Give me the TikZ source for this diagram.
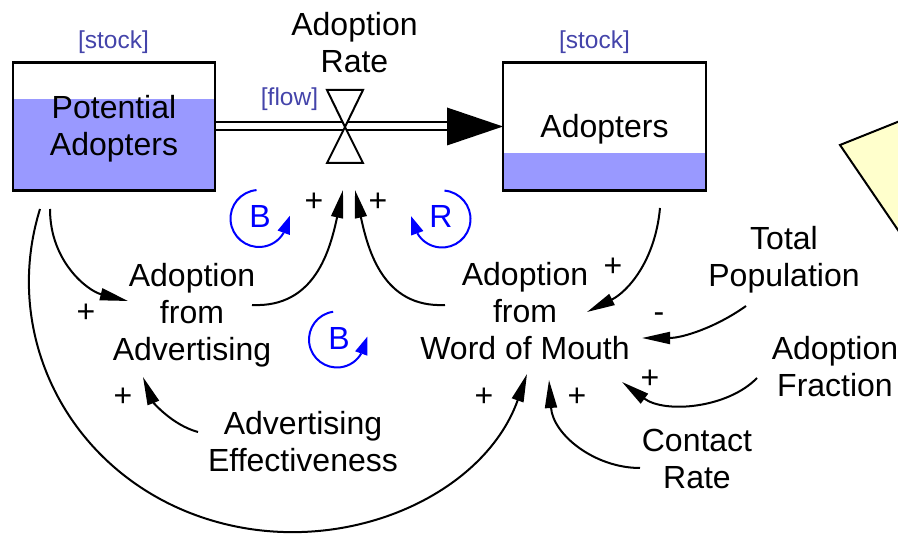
\documentclass[tikz,border=0pt]{standalone}
\usepackage{fontspec}
\setmainfont{Liberation Sans}
\usetikzlibrary{arrows.meta}
\definecolor{stockfill}{RGB}{153,153,255}
\definecolor{tagcol}{RGB}{68,68,170}
\definecolor{loopblue}{RGB}{0,0,255}
\definecolor{notefill}{RGB}{255,255,204}
\begin{document}
\begin{tikzpicture}[x=1pt,y=-1pt,
  every node/.style={font=\fontsize{32}{37}\selectfont, inner sep=0pt, outer sep=0pt},
  var/.style={align=center},
  tag/.style={font=\fontsize{24.5}{28}\selectfont, text=tagcol},
  stockbox/.style={draw, line width=2.5pt, minimum height=128pt, fill=white},
  link/.style={line width=2pt, -{Triangle[length=28pt,width=12pt]}},
  loopline/.style={draw=loopblue, line width=2pt},
  loophead/.style={fill=loopblue},
  looplab/.style={text=loopblue},
  pipe/.style={line width=2pt, double=white, double distance=6pt},
  valvestyle/.style={draw, line width=2pt, fill=white, line join=miter},
]
\useasboundingbox (0,0) rectangle (898,534);

% yellow note (partly outside the picture)
\begin{scope}
  \clip (0,0) rectangle (898,534);
  \coordinate (n1) at (840,145);
  \coordinate (n2) at (960,97);
  \coordinate (n3) at (960,321);
  \draw[fill=notefill, line width=2pt, line join=miter] (n1) -- (n2) -- (n3) -- cycle;
\end{scope}

% stocks
\node[stockbox, minimum width=202pt,
  path picture={\fill[stockfill] (path picture bounding box.south west) rectangle ([yshift=91pt]path picture bounding box.south east);}]
  (pa) at (114,126.5) {};
\node[var] (patext) at (114,128.4) {Potential\\Adopters};
\node[stockbox, minimum width=203pt,
  path picture={\fill[stockfill] (path picture bounding box.south west) rectangle ([yshift=37pt]path picture bounding box.south east);}]
  (ad) at (604.5,126.5) {};
\node (adtext) at (604.5,128.8) {Adopters};

\node[tag] (tag1) at (113.5,42) {[stock]};
\node[tag] (tag2) at (594.5,42) {[stock]};
\node[tag] (tag3) at (289.5,99) {[flow]};

% flow pipe
\draw[pipe] (pa.east) -- ([xshift=-54pt]ad.west);
\draw[line width=2.5pt] (pa.north east) -- (pa.south east);
\fill ([shift={(-56pt,19pt)}]ad.west) -- (ad.west) -- ([shift={(-56pt,-19pt)}]ad.west) -- cycle;

% valve
\coordinate (valve) at (345,127);
\draw[valvestyle] (valve) -- ++(-18,-37) -- ++(36,0) -- cycle;
\draw[valvestyle] (valve) -- ++(-18,36) -- ++(36,0) -- cycle;
\node[var] (rate) at (354.5,43) {Adoption\\Rate};

% variables
\node[var] (aadv) at (192,315) {Adoption\\from\\Advertising};
\node[var] (awom) at (525,311.5) {Adoption\\from\\Word of Mouth};
\node[var] (tp) at (784,259.5) {Total\\Population};
\node[var] (af) at (835,367) {Adoption\\Fraction};
\node[var] (cr) at (697,459) {Contact\\Rate};
\node[var] (ae) at (303,442) {Advertising\\Effectiveness};

% link end points
\coordinate (l1a) at (50,209);   \coordinate (l1b) at (128,301);
\coordinate (l2a) at (252,305);  \coordinate (l2b) at (343,190);
\coordinate (l3a) at (445,305);  \coordinate (l3b) at (355,190);
\coordinate (l4a) at (660,208);  \coordinate (l4b) at (587,312);
\coordinate (l5a) at (746,306);  \coordinate (l5b) at (642,338);
\coordinate (l6a) at (757,378);  \coordinate (l6b) at (622,382);
\coordinate (l7a) at (640,468);  \coordinate (l7b) at (549,380);
\coordinate (l8a) at (40,209);   \coordinate (l8m) at (204,518);  \coordinate (l8b) at (527,374);
\coordinate (l9a) at (198,432);  \coordinate (l9b) at (143,377);

\draw[link] (l1a) .. controls (50,262) and (88,291) .. (l1b);
\draw[link] (l2a) .. controls (315,308) and (330,250) .. (l2b);
\draw[link] (l3a) .. controls (383,308) and (368,250) .. (l3b);
\draw[link] (l4a) .. controls (655,262) and (627,292) .. (l4b);
\draw[link] (l5a) .. controls (715,328) and (682,338) .. (l5b);
\draw[link] (l6a) .. controls (728,408) and (665,414) .. (l6b);
\draw[link] (l7a) .. controls (595,468) and (553,435) .. (l7b);
\draw[link] (l8a) .. controls (0,338) and (71,474) .. (l8m) .. controls (337,562) and (483,498) .. (l8b);
\draw[link] (l9a) .. controls (172,425) and (153,402) .. (l9b);

% polarity signs
\node (s1) at (86,313) {+};
\node (s2) at (314,202) {+};
\node (s3) at (378,202) {+};
\node (s4) at (613,267) {+};
\node (s5) at (659,318) {-};
\node (s6) at (650,379) {+};
\node (s7) at (577,397) {+};
\node (s8) at (484,397) {+};
\node (s9) at (123,397) {+};

% loop markers
\node[looplab] (b1) at (260,216) {B};
\coordinate (b1c) at (259,218.5);
\coordinate (b1e) at ([shift={(330:28.5pt)}]b1c);
\draw[loopline] ([shift={(95:28.5pt)}]b1c) arc[start angle=95, end angle=330, radius=28.5pt];
\fill[loophead] ([shift={(70:18pt)}]b1e) -- ([shift={(160:6.5pt)}]b1e) -- ([shift={(-20:6.5pt)}]b1e) -- cycle;

\node[looplab] (r1) at (441,216) {R};
\coordinate (r1c) at (442,219);
\coordinate (r1e) at ([shift={(210:28.5pt)}]r1c);
\draw[loopline] ([shift={(85:28.5pt)}]r1c) arc[start angle=85, end angle=-150, radius=28.5pt];
\fill[loophead] ([shift={(110:18pt)}]r1e) -- ([shift={(20:6.5pt)}]r1e) -- ([shift={(200:6.5pt)}]r1e) -- cycle;

\node[looplab] (b2) at (339,338) {B};
\coordinate (b2c) at (337,339.5);
\coordinate (b2e) at ([shift={(330:28pt)}]b2c);
\draw[loopline] ([shift={(98:28pt)}]b2c) arc[start angle=98, end angle=330, radius=28pt];
\fill[loophead] ([shift={(70:18pt)}]b2e) -- ([shift={(160:6.5pt)}]b2e) -- ([shift={(-20:6.5pt)}]b2e) -- cycle;
\end{tikzpicture}
\end{document}
